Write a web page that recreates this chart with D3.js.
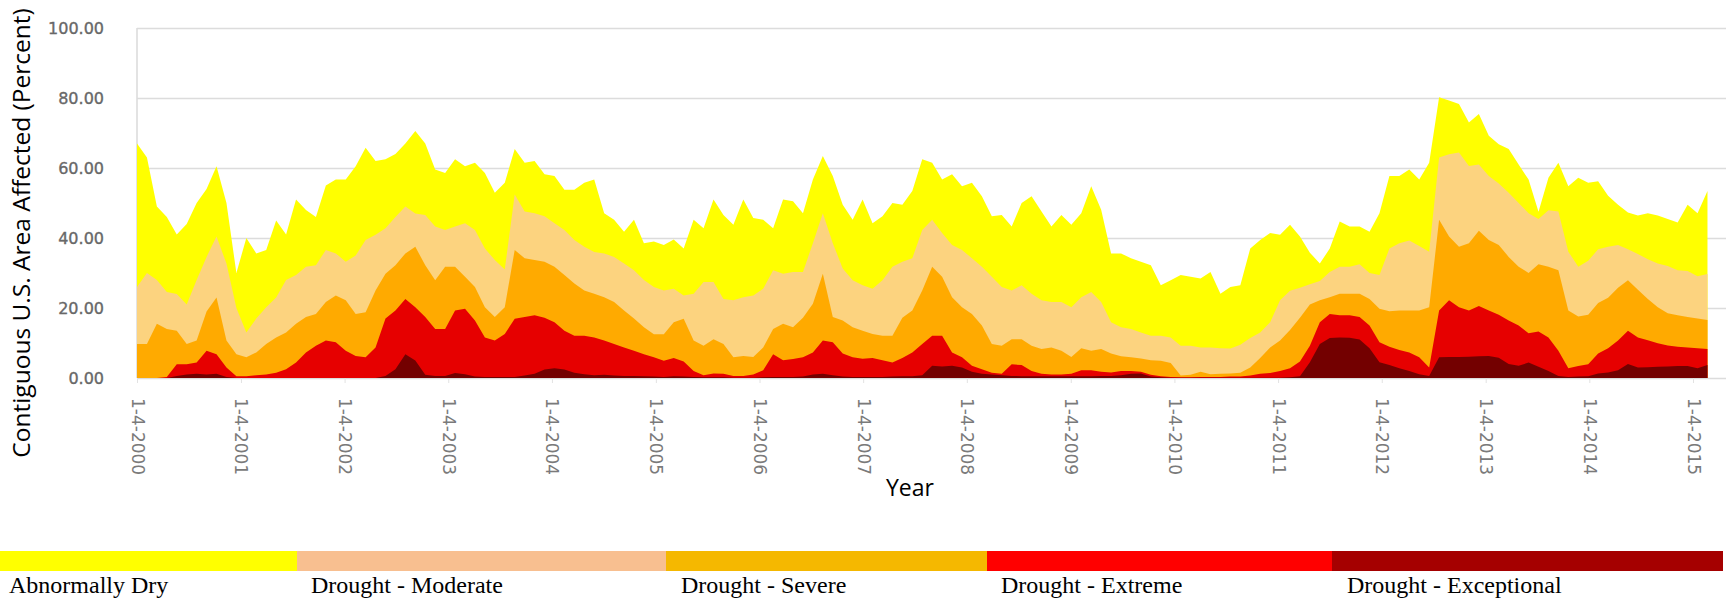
<!DOCTYPE html>
<html>
<head>
<meta charset="utf-8">
<script src="https://cdn.jsdelivr.net/npm/d3@7"></script>
<style>
  body { margin: 0; background: #fff; }
  svg { display: block; }
</style>
</head>
<body>
<div class="container"></div>
<script>
// Drought monitor readings, one sample every 5 weeks starting 1-4-2000
const startDate = '2000-01-04';
const stepDays = 35;

// Cumulative percent of area (each category includes the worse ones)
const abnormallyDry = [
  67, 63, 49, 46, 41, 44, 50, 54, 60.5, 50, 30, 40, 35.6, 36.6, 45, 41, 51, 48, 46, 55, 56.7, 56.7, 60.5, 65.8, 62, 62.5, 64,
  67, 70.6, 67, 59.6, 58.6, 62.5, 60.5, 61.5, 58.6, 52.9, 55.8, 65.4, 61.5, 62, 58.2, 57.7, 53.8, 53.8, 55.8, 56.7, 47.1, 45.2, 41.8, 45.2, 38.5, 39, 38,
  39.6, 37, 45.2, 42.8, 51, 46.6, 43.8, 51, 45.7, 45.2, 42.8, 51, 50.5, 47.1, 56.7, 63.4, 57.7, 49.5, 45.2, 51, 44.2, 46.2, 50, 49.5, 53.4, 62.5,
  61.5, 56.7, 58.2, 54.8, 55.8, 51.9, 46.2, 46.6, 43.3, 50, 51.9, 47.6, 43.3, 46.6, 43.8, 47.1, 54.8, 48.1, 35.6, 35.6, 34.2, 33.2, 32.2, 26.5, 27.9, 29.4, 28.9,
  28.4, 30.3, 24.1, 26, 26.5, 37, 39.4, 41.4, 40.9, 43.8, 40.4, 35.8, 32.7, 37, 44.7, 43.3, 43.3, 41.8, 47.1, 57.7, 57.7, 59.6, 56.7, 61.5, 80.2, 79.3, 78.3,
  73, 75.4, 69.2, 66.8, 65.4, 61, 56.7, 47.5, 57.2, 61.5, 54.8, 57.2, 55.8, 56.2, 52.1, 49.5, 47.3, 46.4, 47.1, 46.4, 45.4, 44.4, 49.5, 47.1, 53.4
];

const droughtModerate = [
  26, 30, 28, 24.6, 24, 21, 28, 34.6, 40.4, 32.7, 20, 13, 17, 20.2, 23, 28, 29.4, 31.8, 32.2, 36.6, 35.6, 33.2, 35, 39.4, 40.9, 42.8, 46,
  49, 47, 46.6, 43.3, 42.3, 43.3, 44.2, 42.3, 37, 33.7, 31, 52.4, 47.6, 47.1, 46.2, 44.2, 42.3, 39.4, 37.5, 36, 35.6, 34.6, 32.7, 30.8, 28, 26, 25,
  25.5, 23.6, 24.1, 27.4, 27.4, 22.6, 22.2, 23.1, 23.6, 25.5, 30.8, 29.8, 30.3, 30.3, 38.5, 47.1, 38.5, 31.3, 27.9, 26.5, 25.5, 27.9, 31.8, 33.2, 34.2, 42.3,
  45.2, 41.4, 38, 36.6, 34.2, 31.8, 28.9, 26, 25, 26.5, 24.1, 22.2, 21.7, 21.7, 20.2, 23.1, 24.6, 21.7, 15.9, 14.5, 14, 13, 12.1, 12.1, 11.6, 9.2, 9.2,
  8.7, 8.7, 8.5, 8.4, 9.5, 11.4, 13, 15.9, 22.2, 24.9, 25.8, 26.8, 27.7, 30.3, 31.8, 31.8, 32.5, 30, 29.4, 37, 38.5, 39.3, 37.7, 36.1, 63, 63.9, 64.4,
  60.6, 61, 57.7, 55.6, 52.9, 50, 47.1, 45.4, 47.9, 47.6, 36.1, 31.8, 33.5, 36.8, 37.5, 38, 36.8, 35.4, 33.9, 32.7, 32, 30.8, 30.6, 29.1, 29.7
];

const droughtSevere = [
  9.7, 9.7, 15.5, 14, 13.5, 9.7, 10.7, 19, 23, 10.7, 6.8, 5.9, 7.3, 9.7, 11.6, 13, 15.5, 17.4, 18.3, 21.7, 23.6, 22.2, 18.3, 18.8, 25, 29.8, 32.2,
  35.6, 37.5, 32.2, 27.9, 31.8, 31.8, 28.9, 26, 20.2, 17.4, 20.2, 36.6, 34.2, 33.7, 33.2, 31.8, 29.4, 27, 25, 24.1, 23.1, 21.7, 19.3, 17, 14.5, 12.5, 12.5,
  15.9, 16.9, 10.7, 9.2, 11.1, 9.7, 5.9, 6.3, 6, 8.7, 14, 15.5, 14.5, 17.2, 21.2, 29.8, 17.4, 16.4, 14.5, 13.5, 12.6, 12.1, 12.1, 17.2, 19.3, 25,
  31.8, 28.9, 23.1, 20.2, 18.3, 15, 9.7, 9.2, 11.1, 11.1, 9.2, 8.3, 8.7, 7.8, 6, 8.5, 7.8, 8.3, 7, 6.2, 5.9, 5.6, 5.1, 4.9, 4.3, 0.7, 0.9,
  1.8, 1.1, 1.2, 1.3, 1.5, 3, 5.7, 8.7, 10.7, 13.7, 17.2, 21, 22.2, 23.1, 24.1, 24.1, 24.1, 22.6, 19.8, 19.1, 19.3, 19.3, 19.3, 20.2, 45.2, 40.4, 37.5,
  38.5, 42.1, 39.4, 38, 34.6, 31.8, 30, 32.5, 31.8, 30.8, 19.3, 17.6, 18.1, 21.4, 22.9, 25.8, 27.9, 25.2, 22.6, 20.2, 18.5, 17.9, 17.4, 17, 16.6
];

const droughtExtreme = [
  0, 0, 0, 0.3, 3.9, 3.9, 4.4, 7.8, 6.8, 3, 0.5, 0.5, 0.8, 1, 1.5, 2.5, 4.4, 7.3, 9.2, 10.7, 10.2, 7.8, 6.3, 5.9, 8.7, 17, 19.3,
  22.6, 20.2, 17.4, 14, 14, 19.3, 19.8, 16.4, 11.6, 10.7, 12.6, 16.9, 17.4, 17.9, 17.2, 15.9, 13.5, 12.1, 12.1, 11.6, 10.7, 9.7, 8.7, 7.8, 6.8, 5.9, 4.9,
  5.7, 4.7, 2, 0.8, 1.3, 1.2, 0.6, 0.6, 1, 2.2, 6.8, 5.1, 5.4, 5.9, 7.3, 10.7, 10.2, 7, 5.9, 5.5, 5.7, 5.1, 4.4, 5.7, 7.3, 9.7,
  12.1, 12.1, 7.3, 5.9, 3.5, 2.5, 1.5, 1.2, 3.9, 3.7, 2, 1.2, 1, 1, 1.2, 2.2, 2.2, 1.8, 1.6, 2, 2, 1.8, 0.9, 0.5, 0.3, 0.2, 0.2,
  0.3, 0.3, 0.3, 0.4, 0.4, 0.7, 1.2, 1.4, 2, 2.8, 4.7, 9.2, 15.9, 18.3, 17.9, 17.9, 17.4, 15, 10.2, 8.9, 8, 7.3, 5.9, 3, 19.3, 22.2, 20.2,
  19.3, 20.6, 19.3, 18.1, 16.4, 15, 12.8, 13.3, 11.6, 7.8, 2.8, 3.4, 3.9, 7, 8.5, 10.7, 13.5, 11.6, 10.8, 9.9, 9.3, 8.9, 8.7, 8.5, 8.3
];

const droughtExceptional = [
  0, 0, 0, 0, 0.6, 1, 1.2, 1, 1.2, 0.3, 0, 0, 0, 0, 0, 0, 0, 0, 0, 0, 0, 0, 0, 0, 0, 0.6, 2.5,
  6.8, 5, 0.9, 0.6, 0.6, 1.4, 1.1, 0.4, 0.3, 0.3, 0.3, 0.3, 0.7, 1.2, 2.4, 2.8, 2.4, 1.5, 1.1, 0.8, 0.9, 0.7, 0.6, 0.6, 0.5, 0.4, 0.3,
  0.5, 0.4, 0.3, 0.2, 0.2, 0.2, 0.1, 0.1, 0.1, 0.2, 0.3, 0.3, 0.3, 0.4, 1, 1.2, 0.8, 0.4, 0.3, 0.3, 0.3, 0.3, 0.4, 0.5, 0.5, 0.8,
  3.5, 3.3, 3.5, 3, 1.8, 1.2, 1, 0.8, 0.6, 0.5, 0.5, 0.5, 0.5, 0.5, 0.5, 0.5, 0.5, 0.6, 0.6, 0.8, 1.2, 1.3, 0.4, 0.2, 0.1, 0.1, 0.1,
  0.1, 0.1, 0.1, 0.1, 0.1, 0.1, 0.1, 0.1, 0.1, 0.2, 0.5, 4.5, 9.7, 11.4, 11.6, 11.5, 11, 8.5, 4.5, 3.7, 2.8, 2, 1.1, 0.6, 5.9, 6, 6,
  6.1, 6.2, 6.3, 5.8, 4, 3.5, 4.4, 3.2, 2, 0.6, 0.3, 0.4, 0.5, 1.3, 1.6, 2.2, 4, 3, 3.1, 3.2, 3.3, 3.4, 3.4, 2.8, 3.7
];

const categories = ['Abnormally Dry', 'Drought - Moderate', 'Drought - Severe', 'Drought - Extreme', 'Drought - Exceptional'];
const series = [abnormallyDry, droughtModerate, droughtSevere, droughtExtreme, droughtExceptional];

const yTicks = [0, 20, 40, 60, 80, 100];
const tickYears = [2000, 2001, 2002, 2003, 2004, 2005, 2006, 2007, 2008, 2009, 2010, 2011, 2012, 2013, 2014, 2015];

// colours
const areaColors = ['#ffff00', '#fcd37f', '#ffaa00', '#e60000', '#730000'];
const legendColors = ['#ffff00', '#f8bf90', '#f5b800', '#ff0000', '#a50000'];

// layout
const width = 1726;
const height = 602;
const plotLeft = 137;
const plotTop = 28;
const plotBottom = 378;
const legendEdges = [0, 297, 666, 987, 1332, 1723];
const legendTextX = [9, 311, 681, 1001, 1347];

const parseDate = d3.utcParse('%Y-%m-%d');
const start = parseDate(startDate);
const dates = abnormallyDry.map((d, i) => d3.utcDay.offset(start, i * stepDays));

const svg = d3.select('.container')
  .append('svg')
  .attr('width', width)
  .attr('height', height);

// scales
const xScale = d3.scaleUtc()
  .domain([parseDate('2000-01-04'), parseDate('2015-01-04')])
  .range([plotLeft, 1693]);

const yScale = d3.scaleLinear()
  .domain([0, 100])
  .range([plotBottom, plotTop]);

// Y axis with gridlines
const yAxis = d3.axisLeft(yScale)
  .tickValues(yTicks)
  .tickFormat(d3.format('.2f'))
  .tickSize(-(width - plotLeft))
  .tickPadding(33);

const gy = svg.append('g')
  .attr('id', 'y-axis')
  .attr('transform', `translate(${plotLeft}, 0)`)
  .call(yAxis);

gy.select('.domain').remove();
gy.selectAll('line').attr('stroke', '#dcdcdc').attr('stroke-width', 1.6);
gy.selectAll('text')
  .attr('fill', '#686868')
  .attr('stroke', '#686868')
  .attr('stroke-width', 0.35)
  .style('font-family', 'DejaVu Sans')
  .style('font-size', '16px');

svg.append('line')
  .attr('x1', plotLeft).attr('x2', plotLeft)
  .attr('y1', yScale(100)).attr('y2', yScale(0))
  .attr('stroke', '#dcdcdc')
  .attr('stroke-width', 1.6);

// Areas, widest category first so the worse ones sit on top
series.forEach((values, k) => {
  const area = d3.area()
    .x((d, i) => xScale(dates[i]))
    .y0(yScale(0))
    .y1(d => yScale(d));

  svg.append('path')
    .datum(values)
    .attr('fill', areaColors[k])
    .attr('d', area);
});

// X axis
const xAxis = d3.axisBottom(xScale)
  .tickValues(tickYears.map(y => parseDate(`${y}-01-04`)))
  .tickFormat(d3.utcFormat('%-m-%-d-%Y'))
  .tickSize(5);

const gx = svg.append('g')
  .attr('id', 'x-axis')
  .attr('transform', `translate(0, ${plotBottom})`)
  .call(xAxis);

gx.select('.domain').remove();
gx.selectAll('line').attr('stroke', '#e2e2e2');
gx.selectAll('text')
  .attr('y', 0)
  .attr('x', 20)
  .attr('dy', '0.35em')
  .attr('transform', 'rotate(90)')
  .style('text-anchor', 'start')
  .attr('fill', '#7a7a7a')
  .style('font-family', 'DejaVu Sans')
  .style('font-size', '17px');

// Axis titles
svg.append('text')
  .attr('transform', 'translate(30, 233) rotate(-90)')
  .attr('text-anchor', 'middle')
  .style('font-family', 'Open Sans')
  .style('font-size', '24.5px')
  .attr('fill', '#000')
  .text('Contiguous U.S. Area Affected (Percent)');

svg.append('text')
  .attr('x', 910)
  .attr('y', 496)
  .attr('text-anchor', 'middle')
  .style('font-family', 'Open Sans')
  .style('font-size', '23px')
  .attr('fill', '#000')
  .text('Year');

// Legend
const legend = svg.append('g').attr('id', 'legend');

legend.selectAll('rect')
  .data(categories)
  .enter()
  .append('rect')
  .attr('x', (d, i) => legendEdges[i])
  .attr('y', 551)
  .attr('width', (d, i) => legendEdges[i + 1] - legendEdges[i])
  .attr('height', 20)
  .attr('fill', (d, i) => legendColors[i]);

legend.selectAll('text')
  .data(categories)
  .enter()
  .append('text')
  .attr('x', (d, i) => legendTextX[i])
  .attr('y', 593)
  .style('font-family', 'Liberation Serif')
  .style('font-size', '24px')
  .attr('fill', '#000')
  .text(d => d);
</script>
</body>
</html>
